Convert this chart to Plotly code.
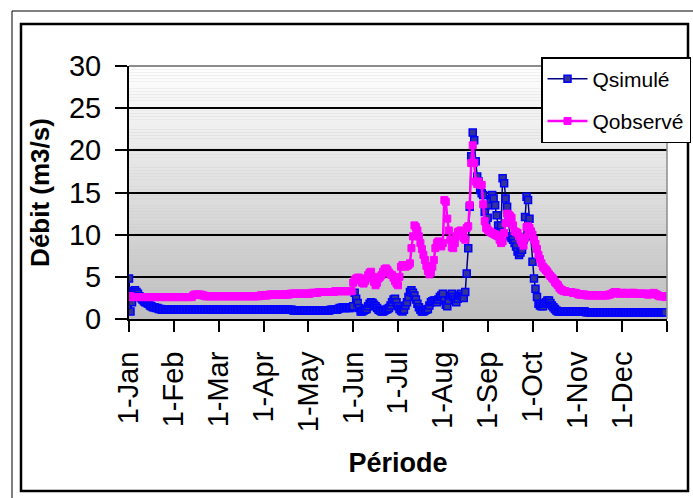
import plotly.graph_objects as go

# Daily discharge over a 12 x 30-day year (m3/s)
jours = list(range(360))

q_simule = [
    4.8, 0.9, 2.0, 3.3, 3.4, 3.2, 3.0, 2.7, 2.5, 2.3, 2.1, 2.0, 1.9, 1.8, 1.6, 1.5, 1.4, 1.4, 1.3, 1.3, 1.2, 1.2, 1.1, 1.1, 1.1, 1.1, 1.1, 1.1, 1.1, 1.1,
    1.1, 1.1, 1.1, 1.1, 1.1, 1.1, 1.1, 1.1, 1.1, 1.1, 1.1, 1.1, 1.1, 1.1, 1.1, 1.1, 1.1, 1.1, 1.1, 1.1, 1.1, 1.1, 1.1, 1.1, 1.1, 1.1, 1.1, 1.1, 1.1, 1.1,
    1.1, 1.1, 1.1, 1.1, 1.1, 1.1, 1.1, 1.1, 1.1, 1.1, 1.1, 1.1, 1.1, 1.1, 1.1, 1.1, 1.1, 1.1, 1.1, 1.1, 1.1, 1.1, 1.1, 1.1, 1.1, 1.1, 1.1, 1.1, 1.1, 1.1,
    1.1, 1.1, 1.1, 1.1, 1.1, 1.1, 1.1, 1.1, 1.1, 1.1, 1.1, 1.1, 1.1, 1.1, 1.1, 1.1, 1.1, 1.1, 1.1, 1.1, 1.0, 1.0, 1.0, 1.0, 1.0, 1.0, 1.0, 1.0, 1.0, 1.0,
    1.0, 1.0, 1.0, 1.0, 1.0, 1.0, 1.0, 1.0, 1.0, 1.0, 1.0, 1.0, 1.0, 1.0, 1.0, 1.1, 1.1, 1.1, 1.1, 1.1, 1.2, 1.3, 1.3, 1.4, 1.3, 1.3, 1.4, 1.3, 1.3, 1.4,
    1.5, 3.1, 2.4, 1.9, 1.3, 0.9, 0.9, 1.0, 1.1, 1.2, 1.5, 1.8, 2.0, 1.9, 1.7, 1.5, 1.3, 1.1, 1.0, 0.9, 0.9, 1.0, 1.1, 1.2, 1.3, 1.6, 2.0, 2.3, 2.4, 2.0,
    1.5, 1.2, 1.0, 0.9, 1.1, 1.6, 2.0, 2.6, 3.2, 3.4, 3.1, 2.8, 2.3, 1.8, 1.4, 1.1, 0.9, 0.9, 1.0, 1.1, 1.2, 1.6, 2.0, 2.1, 2.2, 2.2, 2.0, 2.3, 2.6, 2.8,
    3.0, 2.2, 1.7, 1.5, 2.2, 2.8, 3.0, 2.6, 2.3, 2.0, 2.4, 2.8, 3.0, 2.7, 2.5, 3.2, 5.4, 8.4, 13.3, 19.3, 22.1, 21.2, 18.7, 16.9, 16.3, 15.3, 14.9, 14.7, 12.7, 11.5,
    12.0, 13.5, 14.2, 14.7, 14.3, 13.5, 12.3, 11.1, 10.4, 11.1, 16.7, 16.1, 14.3, 13.3, 11.5, 9.8, 9.6, 9.4, 9.0, 8.6, 8.0, 7.6, 7.9, 8.2, 9.4, 12.1, 14.5, 14.1, 11.9, 9.8,
    6.8, 4.8, 3.6, 2.6, 1.8, 1.6, 1.5, 1.5, 1.8, 2.0, 2.2, 2.2, 1.9, 1.6, 1.4, 1.2, 1.0, 0.9, 0.9, 0.9, 0.9, 0.9, 0.9, 0.9, 0.9, 0.9, 0.9, 0.9, 0.9, 0.9,
    0.9, 0.9, 0.9, 0.9, 0.9, 0.9, 0.8, 0.8, 0.8, 0.8, 0.8, 0.8, 0.8, 0.8, 0.8, 0.8, 0.8, 0.8, 0.8, 0.8, 0.8, 0.8, 0.8, 0.8, 0.8, 0.8, 0.8, 0.8, 0.8, 0.8,
    0.8, 0.8, 0.8, 0.8, 0.8, 0.8, 0.8, 0.8, 0.8, 0.8, 0.8, 0.8, 0.8, 0.8, 0.8, 0.8, 0.8, 0.8, 0.8, 0.8, 0.8, 0.8, 0.8, 0.8, 0.8, 0.8, 0.8, 0.8, 0.8, 0.8,
]

q_observe = [
    2.7, 2.7, 2.6, 2.6, 2.6, 2.6, 2.6, 2.6, 2.6, 2.6, 2.6, 2.6, 2.6, 2.6, 2.6, 2.6, 2.6, 2.6, 2.6, 2.6, 2.6, 2.6, 2.6, 2.6, 2.6, 2.6, 2.6, 2.6, 2.6, 2.6,
    2.6, 2.6, 2.6, 2.6, 2.6, 2.6, 2.6, 2.6, 2.6, 2.6, 2.6, 2.6, 2.6, 2.8, 2.9, 2.9, 2.9, 2.9, 2.9, 2.8, 2.8, 2.7, 2.7, 2.7, 2.7, 2.7, 2.7, 2.7, 2.7, 2.7,
    2.7, 2.7, 2.7, 2.7, 2.7, 2.7, 2.7, 2.7, 2.7, 2.7, 2.7, 2.7, 2.7, 2.7, 2.7, 2.7, 2.7, 2.7, 2.7, 2.7, 2.7, 2.7, 2.7, 2.7, 2.7, 2.7, 2.7, 2.7, 2.8, 2.8,
    2.8, 2.8, 2.8, 2.8, 2.9, 2.9, 2.9, 2.9, 2.9, 2.9, 2.9, 2.9, 2.9, 2.9, 2.9, 2.9, 2.9, 2.9, 3.0, 3.0, 3.0, 3.0, 3.0, 3.0, 3.0, 3.0, 3.0, 3.0, 3.0, 3.0,
    3.0, 3.0, 3.1, 3.1, 3.1, 3.1, 3.1, 3.2, 3.2, 3.2, 3.2, 3.2, 3.2, 3.2, 3.2, 3.2, 3.2, 3.2, 3.3, 3.3, 3.3, 3.3, 3.3, 3.3, 3.3, 3.3, 3.3, 3.3, 3.3, 3.3,
    4.3, 4.6, 4.8, 4.9, 4.9, 4.6, 4.3, 4.2, 4.5, 4.8, 5.2, 5.5, 5.6, 5.0, 4.4, 4.0, 4.3, 4.8, 5.0, 5.2, 5.6, 5.9, 6.0, 5.8, 5.5, 5.3, 5.2, 4.9, 4.5, 4.2,
    4.0, 5.0, 6.2, 6.4, 6.3, 6.2, 6.3, 6.4, 6.6, 8.4, 9.8, 11.1, 10.9, 10.5, 9.8, 9.0, 8.3, 7.6, 7.0, 6.3, 5.7, 5.3, 5.5, 6.2, 7.0, 8.4, 9.0, 9.2, 9.0, 8.6,
    9.0, 14.1, 13.9, 11.9, 10.5, 9.4, 8.5, 8.4, 9.0, 9.8, 10.3, 10.4, 10.5, 10.4, 9.6, 9.4, 10.8, 11.0, 13.5, 18.5, 20.6, 18.5, 16.3, 16.0, 16.3, 15.9, 15.9, 13.6, 11.6, 10.8,
    10.6, 10.4, 10.3, 10.2, 10.1, 10.0, 9.9, 9.8, 9.4, 9.0, 9.2, 10.2, 11.4, 12.5, 12.4, 12.2, 12.0, 11.1, 10.4, 10.3, 10.2, 9.8, 9.4, 9.0, 8.7, 9.6, 10.9, 11.0, 10.8, 10.4,
    10.0, 9.4, 8.9, 8.3, 7.6, 7.1, 6.6, 6.2, 6.0, 5.8, 5.6, 5.3, 5.1, 4.9, 4.7, 4.4, 4.2, 4.0, 3.7, 3.5, 3.4, 3.3, 3.3, 3.2, 3.2, 3.2, 3.2, 3.1, 3.1, 3.1,
    3.0, 2.9, 2.9, 2.9, 2.9, 2.9, 2.8, 2.8, 2.8, 2.8, 2.8, 2.8, 2.8, 2.8, 2.8, 2.8, 2.8, 2.8, 2.8, 2.8, 2.8, 2.9, 2.9, 3.0, 3.1, 3.2, 3.2, 3.1, 3.0, 3.0,
    3.1, 3.1, 3.1, 3.0, 3.0, 3.0, 3.1, 3.1, 3.1, 3.0, 3.0, 3.0, 3.0, 3.0, 3.0, 3.0, 3.0, 2.9, 2.9, 3.0, 3.0, 3.1, 3.0, 2.9, 2.8, 2.7, 2.7, 2.7, 2.7, 2.6,
]

mois_pos = [0, 30, 60, 90, 120, 150, 180, 210, 240, 270, 300, 330, 360]
mois_labels = ["1-Jan", "1-Feb", "1-Mar", "1-Apr", "1-May", "1-Jun", "1-Jul",
               "1-Aug", "1-Sep", "1-Oct", "1-Nov", "1-Dec", ""]

FONT = "Liberation Sans, Arial, sans-serif"

# plot-area placement (px) used to place frame shapes and legend
W, H = 693, 498
ML, MR, MT, MB = 129, 26, 66, 179
PW, PH = W - ML - MR, H - MT - MB


def px_x(px):
    return (px - ML) / PW


def px_y(py):
    return (H - MB - py) / PH


fig = go.Figure()

fig.add_trace(go.Scatter(
    x=jours, y=q_simule, name="Qsimulé", mode="lines+markers",
    line=dict(color="#000080", width=1.5),
    marker=dict(symbol="square", size=7, color="#33339a",
                line=dict(color="#0000ff", width=1.5)),
    legendgroup="a",
))
fig.add_trace(go.Scatter(
    x=jours, y=q_observe, name="Qobservé", mode="lines+markers",
    line=dict(color="#ff00ff", width=2.5),
    marker=dict(symbol="square", size=7, color="#ff00ff",
                line=dict(color="#ff00ff", width=1)),
    legendgroup="b",
))

shapes = []
# vertical grey gradient behind the plot
n_bands = 80
top, bot = (255, 255, 255), (190, 190, 190)
for i in range(n_bands):
    t = (i + 0.5) / n_bands
    c = tuple(round(bot[k] + (top[k] - bot[k]) * t) for k in range(3))
    shapes.append(dict(type="rect", xref="x domain", yref="y domain",
                       x0=0, x1=1, y0=i / n_bands, y1=(i + 1) / n_bands,
                       fillcolor="rgb(%d,%d,%d)" % c, line=dict(width=0),
                       layer="below"))
# grey top and right borders of the plot area
shapes.append(dict(type="line", xref="x domain", yref="y domain",
                   x0=0, x1=1, y0=1, y1=1,
                   line=dict(color="#8c8c8c", width=2), layer="above"))
shapes.append(dict(type="line", xref="x domain", yref="y domain",
                   x0=1, x1=1, y0=0, y1=1,
                   line=dict(color="#8c8c8c", width=1.5), layer="above"))
# outer thin frame and inner thick frame of the chart
shapes.append(dict(type="rect", xref="paper", yref="paper",
                   x0=px_x(12), x1=px_x(720), y0=px_y(520), y1=px_y(11),
                   line=dict(color="black", width=1)))
shapes.append(dict(type="rect", xref="paper", yref="paper",
                   x0=px_x(21), x1=px_x(688), y0=px_y(491), y1=px_y(24),
                   line=dict(color="black", width=2.5)))

fig.update_layout(
    width=W, height=H,
    margin=dict(l=ML, r=MR, t=MT, b=MB, pad=0, autoexpand=False),
    paper_bgcolor="white", plot_bgcolor="#c0c0c0",
    font=dict(family=FONT, color="black"),
    shapes=shapes,
    showlegend=True,
    legend=dict(xref="container", yref="container",
                x=541 / W, y=1 - 57 / H, xanchor="left", yanchor="top",
                bgcolor="white", bordercolor="black", borderwidth=1.5,
                font=dict(size=21, family=FONT, color="black"),
                itemwidth=40, tracegroupgap=12, traceorder="grouped"),
    xaxis=dict(
        range=[0, 360], tickmode="array", tickvals=mois_pos, ticktext=mois_labels,
        tickangle=-90, ticks="outside", ticklen=11, tickwidth=1.5, tickcolor="black",
        showline=True, linecolor="black", linewidth=2,
        showgrid=False, zeroline=False,
        tickfont=dict(size=29, family=FONT, color="black"),
        ticklabelstandoff=8,
        title=dict(text="Période", standoff=22,
                   font=dict(size=27, family=FONT, color="black", weight="bold")),
    ),
    yaxis=dict(
        range=[0, 30], tickmode="array", tickvals=[0, 5, 10, 15, 20, 25, 30],
        ticks="outside", ticklen=12, tickwidth=1.5, tickcolor="black",
        showline=True, linecolor="black", linewidth=2,
        showgrid=True, gridcolor="black", gridwidth=1.5, zeroline=False,
        tickfont=dict(size=29, family=FONT, color="black"),
        ticklabelstandoff=8,
        title=dict(text="Débit (m3/s)", standoff=12,
                   font=dict(size=26, family=FONT, color="black", weight="bold")),
    ),
)

fig.write_html("out.html")
